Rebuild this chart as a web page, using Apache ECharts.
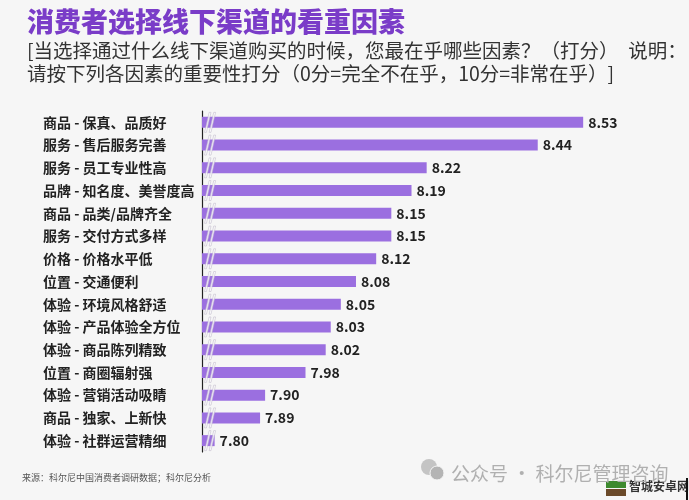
<!DOCTYPE html>
<html>
<head>
<meta charset="utf-8">
<script src="https://cdn.jsdelivr.net/npm/echarts@6/dist/echarts.min.js"></script>
<style>
  html, body { margin: 0; padding: 0; background: #f6f6f6; }
  #chart { width: 689px; height: 500px; }
</style>
</head>
<body>
<div id="chart"></div>
<script>
// factors, top to bottom
var factors = [
    '商品 - 保真、品质好',
    '服务 - 售后服务完善',
    '服务 - 员工专业性高',
    '品牌 - 知名度、美誉度高',
    '商品 - 品类/品牌齐全',
    '服务 - 交付方式多样',
    '价格 - 价格水平低',
    '位置 - 交通便利',
    '体验 - 环境风格舒适',
    '体验 - 产品体验全方位',
    '体验 - 商品陈列精致',
    '位置 - 商圈辐射强',
    '体验 - 营销活动吸睛',
    '商品 - 独家、上新快',
    '体验 - 社群运营精细'
];
var scores = [8.53, 8.44, 8.22, 8.19, 8.15, 8.15, 8.12, 8.08, 8.05, 8.03, 8.02, 7.98, 7.90, 7.89, 7.80];

var title_text = '消费者选择线下渠道的看重因素';
var subtitle_text = '[当选择通过什么线下渠道购买的时候，您最在乎哪些因素？（打分）\u3000说明：\n请按下列各因素的重要性打分（0分=完全不在乎，10分=非常在乎）]';
var source_text = '来源：科尔尼中国消费者调研数据；科尔尼分析';
var watermark_text = '公众号 · 科尔尼管理咨询';

var axis_min = 7.775;
var axis_max = 8.7;
var break_at = 7.791;

var font = '"Noto Sans CJK SC", "Noto Sans", sans-serif';
var purple = '#9b6fe0';

var breaks = factors.map(function (name) {
    return [break_at, name];
});

var option = {
    backgroundColor: '#f6f6f6',
    textStyle: { fontFamily: font },
    title: [
        {
            text: title_text,
            left: 22,
            top: 3,
            textStyle: { fontSize: 27, fontWeight: 900, color: '#7a3cc8', fontFamily: font }
        },
        {
            text: subtitle_text,
            left: 22,
            top: 34,
            textStyle: { fontSize: 19.5, fontWeight: 'normal', color: '#333', lineHeight: 23, fontFamily: font }
        },
        {
            text: source_text,
            left: 17,
            top: 468,
            textStyle: { fontSize: 9, fontWeight: 'normal', color: '#555', fontFamily: font }
        },
        {
            text: watermark_text,
            left: 446,
            top: 459,
            textStyle: { fontSize: 19, fontWeight: 'normal', color: '#b0b0b0', fontFamily: font }
        }
    ],
    grid: {
        left: 202,
        right: 20,
        top: 111,
        bottom: 48
    },
    xAxis: {
        type: 'value',
        min: axis_min,
        max: axis_max,
        show: false
    },
    yAxis: {
        type: 'category',
        inverse: true,
        data: factors,
        axisLine: { show: true, lineStyle: { color: '#222', width: 1.2 } },
        axisTick: { show: false },
        axisLabel: {
            align: 'left',
            margin: 159,
            fontSize: 14,
            fontWeight: 'bold',
            color: '#222',
            fontFamily: font
        }
    },
    series: [
        {
            type: 'bar',
            data: scores,
            barWidth: 11,
            itemStyle: { color: purple },
            label: {
                show: true,
                position: 'right',
                distance: 5,
                fontSize: 14,
                fontWeight: 'bold',
                color: '#222',
                fontFamily: font,
                formatter: function (p) {
                    return p.value.toFixed(2);
                }
            },
            silent: true
        },
        {
            // the "//" axis-break marks at the start of each bar
            type: 'scatter',
            data: breaks,
            symbol: 'path://M0,20 L5,0 L7,0 L2,20 Z M5,20 L10,0 L12,0 L7,20 Z',
            symbolSize: [11, 20],
            itemStyle: { color: '#ffffff', borderColor: '#b8b0c4', borderWidth: 0.6 },
            z: 5,
            silent: true
        }
    ],
    graphic: [
        { type: 'circle', shape: { cx: 429, cy: 467, r: 8 }, style: { fill: '#c4c4c4' } },
        { type: 'circle', shape: { cx: 437, cy: 473, r: 7 }, style: { fill: '#b4b4b4', stroke: '#f6f6f6', lineWidth: 1 } },
        { type: 'rect', shape: { x: 606, y: 481, width: 20, height: 7 }, style: { fill: '#3d8a2e' } },
        { type: 'rect', shape: { x: 606, y: 489, width: 20, height: 7 }, style: { fill: '#6b4a2a' } },
        {
            type: 'text',
            left: 629,
            top: 480,
            style: { text: '智城安卓网', font: 'bold 12px ' + font, fill: '#333' }
        },
        { type: 'rect', shape: { x: 686, y: 478, width: 2, height: 22 }, style: { fill: '#111' } }
    ]
};

var chart = echarts.init(document.getElementById('chart'));
chart.setOption(option);
</script>
</body>
</html>
